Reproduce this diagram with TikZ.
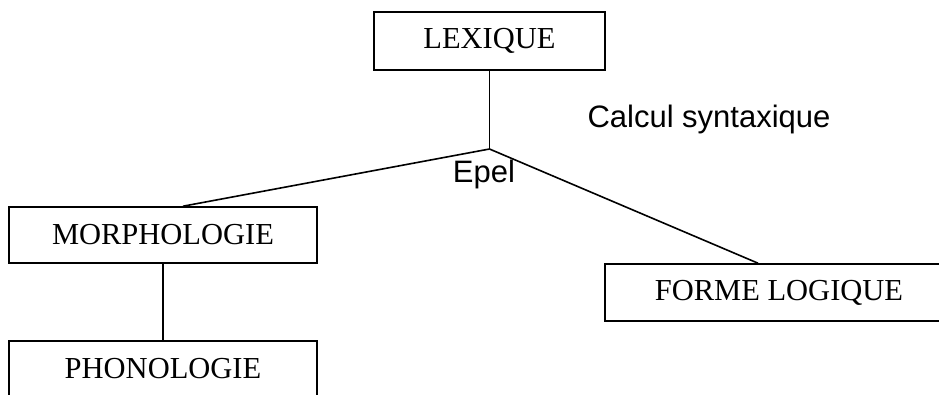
\documentclass[tikz,border=0pt]{standalone}
\usepackage{fontspec}
\setmainfont{Liberation Serif}
\newfontfamily\labelfont{Liberation Sans}
\usetikzlibrary{calc}

\tikzset{
  levelbox/.style={draw=black, line width=1.6pt, inner sep=0pt,
    font=\fontsize{30.5}{36}\selectfont},
  link/.style={draw=black, line width=1.6pt},
  annot/.style={inner sep=0pt, font=\labelfont\fontsize{31}{36}\selectfont}
}

\begin{document}
\begin{tikzpicture}[x=1pt, y=-1pt]
  \useasboundingbox (0,0) rectangle (939,394);
  \clip (0,0) rectangle (939,394);

  % the four levels
  \node[levelbox, minimum width=231pt, minimum height=58pt] (lex) at (489.5,41) {LEXIQUE};
  \node[levelbox, minimum width=308pt, minimum height=56pt] (morph) at (163,235) {MORPHOLOGIE};
  \node[levelbox, minimum width=308pt, minimum height=56pt] (phono) at (163,369) {PHONOLOGIE};
  \node[levelbox, minimum width=348pt, minimum height=57pt] (forme) at (779,292.5) {FORME LOGIQUE};

  % branching point of the derivation
  \coordinate (J) at (489.5,149);

  \draw[link] (lex.south) -- (J);
  \draw[link] (J) -- ($(morph.north)+(20,0)$);
  \draw[link] (J) -- ($(forme.north)+(-21,0)$);
  \draw[link] (morph.south) -- (phono.north);

  % labels
  \node[annot, anchor=base] (calc) at (709,127) {Calcul syntaxique};
  \node[annot, anchor=base] (epel) at (484,182) {Epel};
\end{tikzpicture}
\end{document}
